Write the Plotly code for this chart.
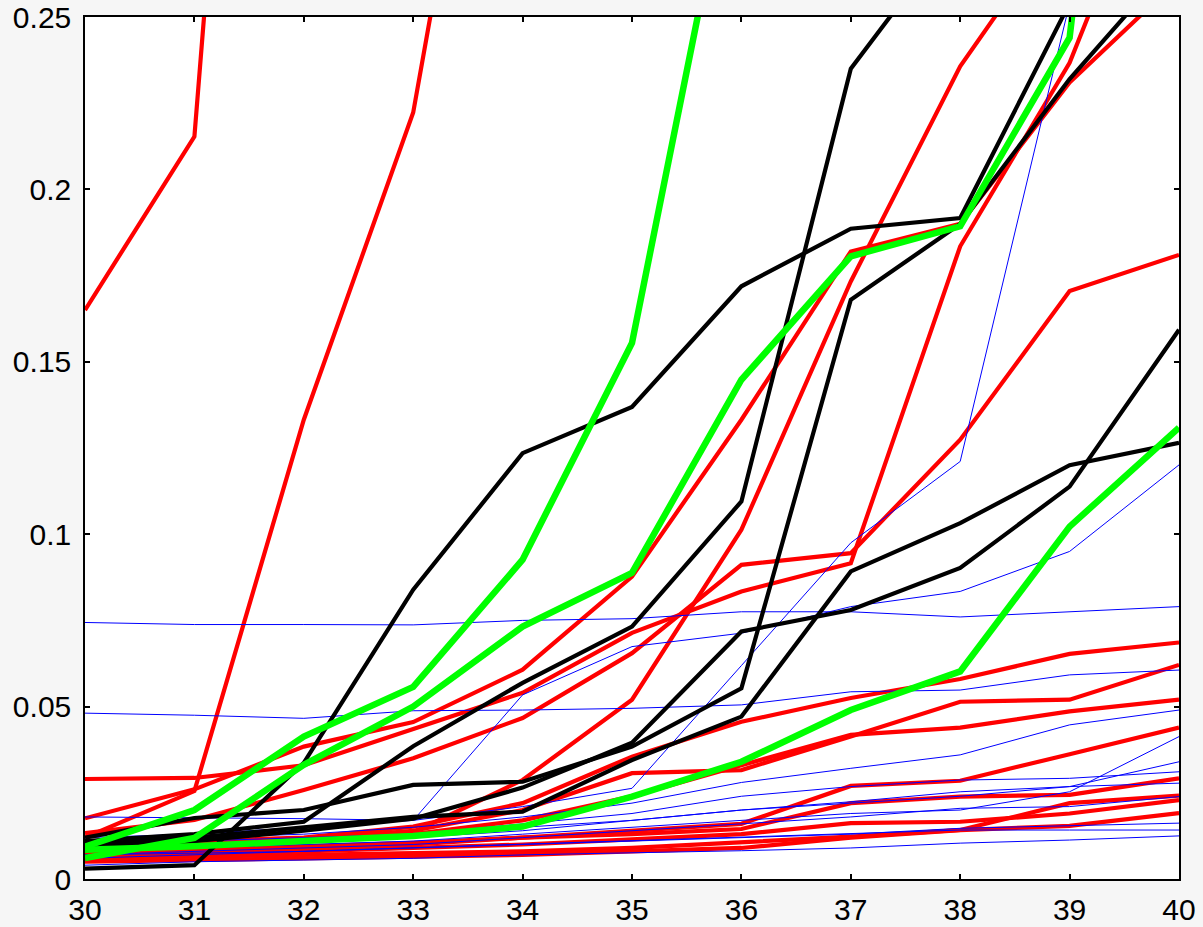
import plotly.graph_objects as go

# Horizontal positions shared by every series
x_vals = list(range(30, 41))

# Red series
red_1 = [0.165, 0.2153, 0.61, 0.95, 1.2, 1.4, 1.6, 1.8, 2.0, 2.2, 2.4]
red_2 = [0.012, 0.0255, 0.1332, 0.2223, 0.40, 0.58, 0.75, 0.90, 1.05, 1.2, 1.35]
red_3 = [0.007, 0.009, 0.011, 0.0135, 0.0287, 0.052, 0.1013, 0.1733, 0.2357, 0.281, 0.33]
red_4 = [0.029, 0.0293, 0.033, 0.0435, 0.054, 0.0714, 0.0834, 0.0916, 0.1835, 0.2367, 0.316]
red_5 = [0.0176, 0.026, 0.0384, 0.0455, 0.0607, 0.0877, 0.1332, 0.182, 0.190, 0.231, 0.261]
red_6 = [0.0133, 0.0171, 0.0258, 0.035, 0.0467, 0.0655, 0.0911, 0.0945, 0.1274, 0.1705, 0.181]
red_7 = [0.010, 0.011, 0.012, 0.0152, 0.022, 0.0355, 0.0456, 0.0525, 0.058, 0.0653, 0.0686]
red_8 = [0.009, 0.010, 0.0115, 0.014, 0.020, 0.0307, 0.0316, 0.0413, 0.0514, 0.052, 0.0621]
red_9 = [0.008, 0.009, 0.011, 0.013, 0.017, 0.024, 0.033, 0.0418, 0.0439, 0.0486, 0.052]
red_10 = [0.007, 0.008, 0.009, 0.010, 0.012, 0.014, 0.016, 0.027, 0.0285, 0.0362, 0.0439]
red_11 = [0.008, 0.0085, 0.0095, 0.0105, 0.012, 0.013, 0.0145, 0.022, 0.0239, 0.0244, 0.0292]
red_12 = [0.006, 0.0065, 0.007, 0.0075, 0.008, 0.009, 0.0105, 0.0123, 0.0142, 0.022, 0.0242]
red_13 = [0.007, 0.0075, 0.008, 0.009, 0.010, 0.0115, 0.013, 0.0162, 0.0166, 0.019, 0.0229]
red_14 = [0.005, 0.0055, 0.006, 0.0065, 0.007, 0.008, 0.009, 0.012, 0.0142, 0.0154, 0.0191]

# Black series
black_1 = [0.003, 0.004, 0.0337, 0.0839, 0.1235, 0.1369, 0.1719, 0.1886, 0.1917, 0.254, 0.31]
black_2 = [0.011, 0.013, 0.0166, 0.0385, 0.0569, 0.0732, 0.1095, 0.235, 0.277, 0.33, 0.38]
black_3 = [0.012, 0.0177, 0.020, 0.0273, 0.0282, 0.0384, 0.0553, 0.168, 0.190, 0.232, 0.268]
black_4 = [0.010, 0.012, 0.015, 0.018, 0.0195, 0.0345, 0.0471, 0.0892, 0.1032, 0.120, 0.1265]
black_5 = [0.009, 0.011, 0.014, 0.0175, 0.0265, 0.0395, 0.0718, 0.078, 0.0902, 0.1138, 0.1593]

# Green series
green_1 = [0.0094, 0.020, 0.0413, 0.0557, 0.0926, 0.1555, 0.313, 0.45, 0.60, 0.75, 0.90]
green_2 = [0.0061, 0.0119, 0.0331, 0.050, 0.0732, 0.0888, 0.1448, 0.1806, 0.1893, 0.244, 0.515]
green_3 = [0.0085, 0.0095, 0.011, 0.0125, 0.0152, 0.0239, 0.034, 0.049, 0.0602, 0.1022, 0.1309]

# Blue series
blue_1 = [0.0744, 0.0738, 0.0738, 0.0737, 0.0750, 0.0755, 0.0775, 0.0775, 0.076, 0.0775, 0.079]
blue_2 = [0.0481, 0.0475, 0.0466, 0.0488, 0.049, 0.0495, 0.0505, 0.0543, 0.0548, 0.0592, 0.0606]
blue_3 = [0.012, 0.013, 0.015, 0.017, 0.021, 0.0263, 0.0619, 0.0975, 0.1211, 0.254, 0.28]
blue_4 = [0.018, 0.0178, 0.0175, 0.017, 0.0534, 0.0674, 0.0713, 0.079, 0.0834, 0.095, 0.1201]
blue_5 = [0.011, 0.012, 0.013, 0.015, 0.018, 0.022, 0.028, 0.0321, 0.036, 0.0447, 0.049]
blue_6 = [0.009, 0.010, 0.011, 0.013, 0.016, 0.019, 0.024, 0.0268, 0.0287, 0.0292, 0.0311]
blue_7 = [0.009, 0.0095, 0.011, 0.012, 0.014, 0.017, 0.020, 0.0224, 0.0253, 0.0268, 0.0278]
blue_8 = [0.008, 0.009, 0.010, 0.011, 0.013, 0.015, 0.017, 0.019, 0.020, 0.0253, 0.0413]
blue_9 = [0.010, 0.011, 0.012, 0.013, 0.015, 0.017, 0.020, 0.022, 0.024, 0.0268, 0.034]
blue_10 = [0.007, 0.008, 0.009, 0.010, 0.012, 0.014, 0.016, 0.018, 0.0205, 0.021, 0.0239]
blue_11 = [0.007, 0.0075, 0.008, 0.009, 0.010, 0.011, 0.012, 0.013, 0.0147, 0.0155, 0.0162]
blue_12 = [0.006, 0.007, 0.008, 0.009, 0.010, 0.011, 0.012, 0.013, 0.0142, 0.0142, 0.0142]
blue_13 = [0.004, 0.005, 0.0055, 0.006, 0.007, 0.0075, 0.0082, 0.009, 0.0104, 0.0113, 0.0125]

# Axis ticks
x_ticks = list(range(30, 41))
y_ticks = [0, 0.05, 0.1, 0.15, 0.2, 0.25]
y_tick_text = ["0", "0.05", "0.1", "0.15", "0.2", "0.25"]

reds = [red_1, red_2, red_3, red_4, red_5, red_6, red_7, red_8, red_9,
        red_10, red_11, red_12, red_13, red_14]
blacks = [black_1, black_2, black_3, black_4, black_5]
greens = [green_1, green_2, green_3]
blues = [blue_1, blue_2, blue_3, blue_4, blue_5, blue_6, blue_7, blue_8,
         blue_9, blue_10, blue_11, blue_12, blue_13]

fig = go.Figure()


def add_group(series, color, width):
    for ys in series:
        fig.add_trace(go.Scatter(
            x=x_vals, y=ys, mode="lines",
            line=dict(color=color, width=width),
            showlegend=False, hoverinfo="skip",
        ))


add_group(reds, "#ff0000", 4.2)
add_group(blues, "#0000ff", 1)
add_group(blacks, "#000000", 4.2)
add_group(greens, "#00ff00", 6.5)

axis_font = dict(family="Liberation Sans, Arial, sans-serif", size=30, color="#000000")

fig.update_xaxes(
    range=[30, 40], tickvals=x_ticks, ticktext=[str(v) for v in x_ticks],
    showgrid=False, zeroline=False, automargin=False,
    showline=True, linecolor="#000000", linewidth=1.5, mirror="ticks",
    ticks="inside", ticklen=5, tickwidth=1.5, tickcolor="#000000",
    tickfont=axis_font, ticklabelstandoff=3,
)
fig.update_yaxes(
    range=[0, 0.25], tickvals=y_ticks, ticktext=y_tick_text,
    showgrid=False, zeroline=False, automargin=False,
    showline=True, linecolor="#000000", linewidth=1.5, mirror="ticks",
    ticks="inside", ticklen=5, tickwidth=1.5, tickcolor="#000000",
    tickfont=axis_font, ticklabelstandoff=6,
)

fig.update_layout(
    width=1203, height=927,
    margin=dict(l=85, r=24, t=17, b=48),
    paper_bgcolor="#f6f6f6",
    plot_bgcolor="#ffffff",
    showlegend=False,
)

fig.write_html("out.html")
